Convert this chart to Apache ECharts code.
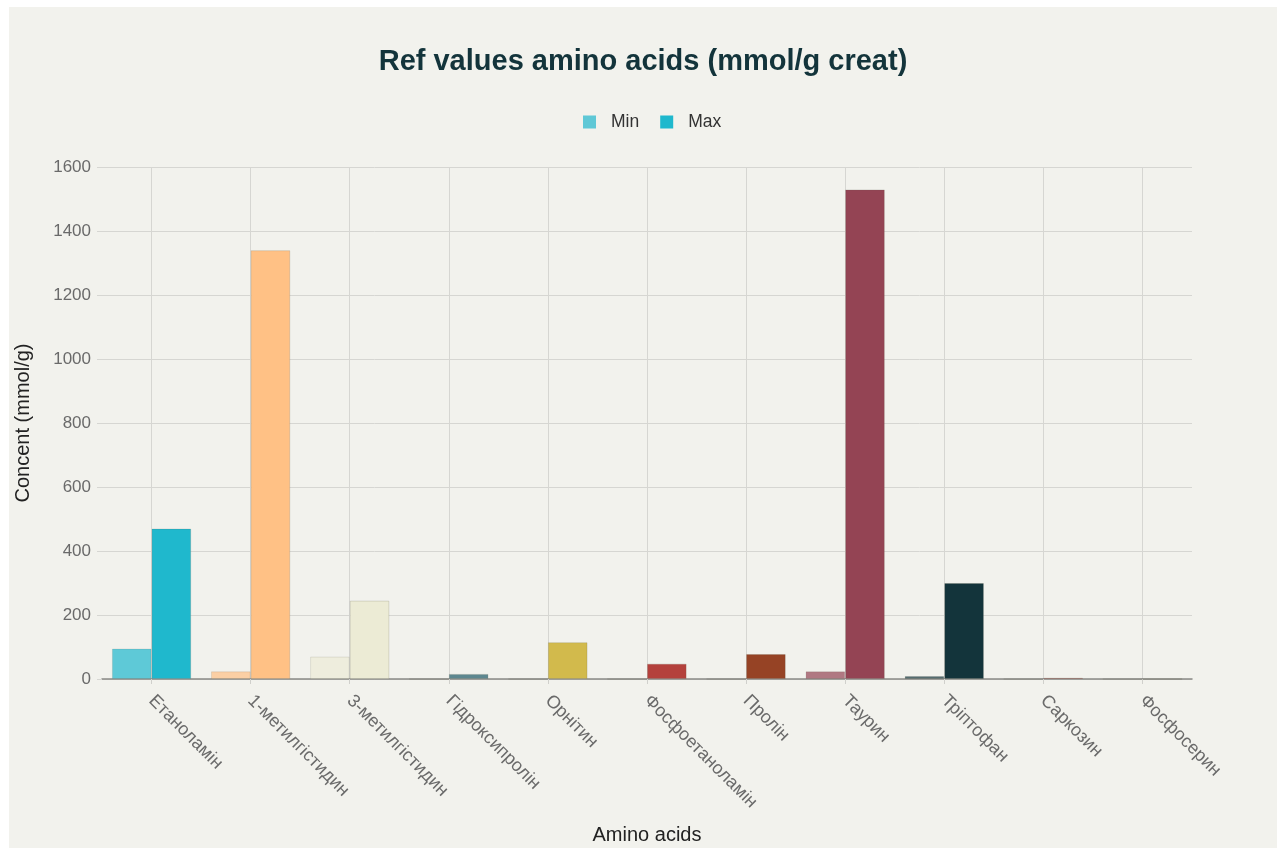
<!DOCTYPE html>
<html>
<head>
<meta charset="utf-8">
<script src="https://cdn.jsdelivr.net/npm/echarts@6/dist/echarts.min.js"></script>
<style>
  html, body { margin: 0; padding: 0; background: #ffffff; }
  #chart { position: absolute; left: 9px; top: 7px; width: 1268px; height: 841px; }
</style>
</head>
<body>
<div id="chart"></div>
<script>
// Amino acid reference ranges (mmol/g creatinine)
const categories = ['Етаноламін', '1-метилгістидин', '3-метилгістидин', 'Гідроксипролін', 'Орнітин',
  'Фосфоетаноламін', 'Пролін', 'Таурин', 'Тріптофан', 'Саркозин', 'Фосфосерин'];
const minValues = [95, 24, 70, 0, 0, 0, 0, 24, 9, 0, 0];
const maxValues = [470, 1340, 245, 16, 115, 48, 78, 1530, 300, 4, 0];
const yTicks = [0, 200, 400, 600, 800, 1000, 1200, 1400, 1600];

// one colour per amino acid; the Min bar uses the same colour, faded
const palette = ['#1FB8CD', '#FFC185', '#ECEBD5', '#5D878F', '#D2BA4C', '#B4413C',
  '#964325', '#944454', '#13343B', '#DB4545', '#1FB8CD'];

const FONT = 'Liberation Sans, Arial, sans-serif';

function barData(values, faded) {
  return values.map((v, i) => ({
    value: v,
    itemStyle: {
      color: palette[i],
      opacity: faded ? 0.7 : 1,
      borderColor: 'rgba(90,90,70,0.18)',
      borderWidth: 1
    }
  }));
}

const chart = echarts.init(document.getElementById('chart'), null, { renderer: 'canvas' });
chart.setOption({
  backgroundColor: '#F2F2ED',
  animation: false,
  title: {
    text: 'Ref values amino acids (mmol/g creat)',
    left: 'center',
    top: 35,
    textStyle: { fontFamily: FONT, fontSize: 29, fontWeight: 'bold', color: '#13343B' }
  },
  legend: {
    top: 101,
    left: 569,
    icon: 'rect',
    itemWidth: 13,
    itemHeight: 13,
    itemGap: 21,
    textStyle: { fontFamily: FONT, fontSize: 17.5, color: '#333333', padding: [0, 0, 0, 10] },
    data: [
      { name: 'Min', itemStyle: { color: '#5FC8D6', borderWidth: 0, opacity: 1 } },
      { name: 'Max', itemStyle: { color: '#1FB8CD', borderWidth: 0, opacity: 1 } }
    ]
  },
  grid: { left: 93, right: 85, top: 160, bottom: 169, containLabel: false, outerBoundsMode: 'none' },
  xAxis: {
    type: 'category',
    data: categories,
    name: 'Amino acids',
    nameLocation: 'middle',
    nameGap: 146,
    nameTextStyle: { fontFamily: FONT, fontSize: 20, color: '#222222' },
    axisLine: { lineStyle: { color: '#8a8a86', width: 1.5 } },
    axisTick: { show: true, alignWithLabel: true, length: 5, lineStyle: { color: '#d0d0cc' } },
    splitLine: { show: true, alignWithLabel: true, lineStyle: { color: '#d6d6d2', width: 1 } },
    axisLabel: {
      rotate: -45,
      interval: 0,
      margin: 19,
      fontFamily: FONT,
      fontSize: 18,
      color: '#6a6a6a'
    }
  },
  yAxis: {
    type: 'value',
    min: yTicks[0],
    max: yTicks[yTicks.length - 1],
    interval: yTicks[1] - yTicks[0],
    name: 'Concent (mmol/g)',
    nameLocation: 'middle',
    nameGap: 69,
    nameTextStyle: { fontFamily: FONT, fontSize: 20, color: '#222222' },
    axisLine: { show: false },
    axisTick: { show: true, length: 5, lineStyle: { color: '#d6d6d2' } },
    splitLine: { lineStyle: { color: '#d6d6d2', width: 1 } },
    axisLabel: {
      margin: 11,
      fontFamily: FONT,
      fontSize: 17,
      color: '#6a6a6a',
      formatter: v => String(v)
    }
  },
  series: [
    {
      name: 'Min',
      type: 'bar',
      data: barData(minValues, true),
      barGap: '0%',
      barCategoryGap: '20%',
      itemStyle: { color: '#5FC8D6' }
    },
    {
      name: 'Max',
      type: 'bar',
      data: barData(maxValues, false),
      barGap: '0%',
      barCategoryGap: '20%',
      itemStyle: { color: '#1FB8CD' }
    }
  ]
});
</script>
</body>
</html>
